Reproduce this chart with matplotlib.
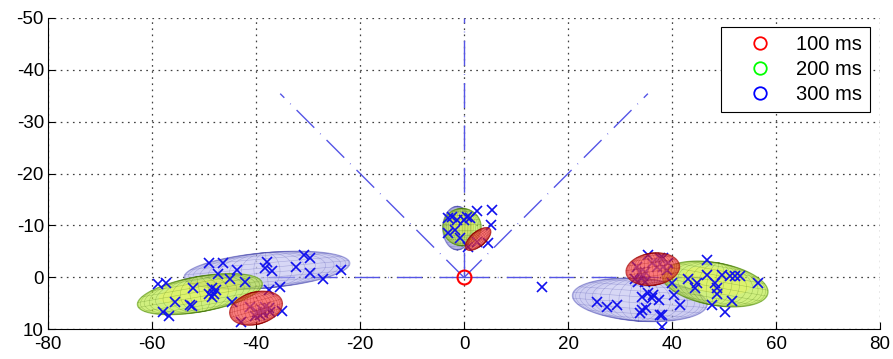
import numpy as np
import matplotlib
matplotlib.use("Agg")
import matplotlib.pyplot as plt
from matplotlib.lines import Line2D

plt.rcParams['font.family'] = ['Liberation Sans', 'DejaVu Sans']
plt.rcParams['lines.scale_dashes'] = False
plt.rcParams['axes.unicode_minus'] = False

# posiciones individuales (x, y)
pts_x = [-49.0, -46.4, -43.6, -47.4, -45.0, -58.8, -57.3, -52.1, -48.5, -47.7,
         -49.0, -48.1, -48.5, -55.6, -52.7, -52.3, -57.8, -56.7, -44.7, -42.1,
         -37.9, -38.3, -37.0, -32.3, -30.8, -29.6, -29.6, -27.1, -23.7, -35.4,
         -37.6, -41.2, -39.9, -38.9, -38.3, -37.6, -39.2, -40.2, -37.3, -38.6,
         -35.1, -42.8,
         35.4, 37.7, 36.1, 37.1, 38.3, 39.0, 33.2, 33.8, 34.8, 32.9,
         34.5, 34.8, 33.5, 25.5, 27.4, 29.4, 34.2, 35.4, 36.4, 36.1,
         37.4, 34.2, 35.0, 33.8, 37.7, 38.0, 46.7, 38.3, 39.3, 39.9,
         43.1, 44.8, 44.4, 46.7, 48.3, 49.6, 51.2, 52.1, 53.1, 56.6,
         48.6, 48.7, 40.3, 41.5, 47.6, 51.5, 50.2, 38.0,
         -2.4, -1.4, -3.0, -0.1, 0.5, 1.2, 2.4, 5.4, 5.1, 4.6,
         -3.0, 0.8, 2.4, -1.7, -0.8,
         14.9]
pts_y = [-2.7, -2.7, -1.4, -0.6, 0.2, 1.3, 1.1, 2.1, 2.1, 2.4,
         3.2, 3.2, 3.7, 4.8, 5.3, 5.5, 6.6, 7.4, 4.8, 0.8,
         -3.0, -1.8, -1.3, -2.1, -4.3, -3.8, -0.8, 0.2, -1.4, 1.8,
         2.4, 5.6, 6.6, 6.3, 5.6, 5.9, 7.2, 7.5, 6.6, 6.9,
         6.4, 8.5,
         -4.3, -3.7, -2.7, -2.1, -2.1, -1.4, -2.1, -1.1, -1.1, 0.2,
         -0.2, 0.8, 0.8, 4.7, 5.6, 5.2, 3.7, 3.0, 3.4, 4.0,
         4.3, 6.3, 5.9, 6.9, 7.2, 9.5, -3.4, -3.7, -2.7, 1.1,
         0.2, 1.1, 2.0, -0.5, 1.1, -0.5, -0.2, -0.2, -0.2, 1.1,
         2.1, 3.2, 3.4, 5.3, 5.3, 4.5, 6.6, 7.2,
         -11.7, -11.1, -11.4, -11.1, -11.7, -11.4, -12.7, -12.9, -10.0, -6.7,
         -8.5, -5.9, -6.9, -9.1, -7.6,
         1.9]

# elipses de confianza: centro x, centro y, semieje a, semieje b, ángulo (grados)
elip_100 = [(-40.0, 5.9, 5.2, 3.1, -15), (36.3, -1.6, 5.2, 3.1, -8), (2.7, -7.4, 3.0, 1.4, -40)]
elip_200 = [(-50.8, 3.2, 12.2, 3.4, -10), (48.3, 1.25, 10.3, 4.1, 10), (-0.4, -9.7, 3.7, 3.6, 0)]
elip_300 = [(-37.9, -1.4, 16.0, 3.4, -5), (33.8, 4.3, 13.0, 4.1, 4), (-1.3, -9.5, 2.8, 4.2, 0)]

tiempos = ["100 ms", "200 ms", "300 ms"]
colores_leyenda = ["#ff0000", "#00ff00", "#0000ff"]

# rayos de referencia desde el origen
rayo_angulos = [0, 45, 90, 135, 180]
rayo_largo = 50


def rotar(cx, cy, u, v, ang):
    c, s = np.cos(np.radians(ang)), np.sin(np.radians(ang))
    return cx + u * c - v * s, cy + u * s + v * c


def elipsoide(ax, e, cara, interior, borde, malla, alfa, z):
    cx, cy, a, b, ang = e
    t = np.linspace(0, 2 * np.pi, 200)
    x, y = rotar(cx, cy, a * np.cos(t), b * np.sin(t), ang)
    ax.fill(x, y, facecolor=cara, edgecolor=borde, lw=0.8, alpha=alfa, zorder=z)
    x, y = rotar(cx, cy, 0.65 * a * np.cos(t), 0.6 * b * np.sin(t) - 0.15 * b, ang)
    ax.fill(x, y, facecolor=interior, edgecolor='none', alpha=0.35, zorder=z)
    lat = np.linspace(-np.pi / 2, np.pi / 2, 60)
    for lon in np.linspace(-np.pi / 2, np.pi / 2, 21)[1:-1]:
        x, y = rotar(cx, cy, a * np.sin(lon) * np.cos(lat), b * np.sin(lat), ang)
        ax.plot(x, y, color=malla, lw=0.4, alpha=0.35, zorder=z)
    for la in np.linspace(-np.pi / 2, np.pi / 2, 12)[1:-1]:
        u = np.linspace(-a * np.cos(la), a * np.cos(la), 2)
        x, y = rotar(cx, cy, u, np.full(2, b * np.sin(la)), ang)
        ax.plot(x, y, color=malla, lw=0.4, alpha=0.35, zorder=z)


fig = plt.figure(figsize=(8.93, 3.59), dpi=100)
ax = fig.add_axes([0.0538, 0.0822, 0.9317, 0.869])

for ang in rayo_angulos:
    ax.plot([0, rayo_largo * np.cos(np.radians(ang))],
            [0, -rayo_largo * np.sin(np.radians(ang))],
            color='#5555e6', lw=1.0, dashes=(18, 6, 0.5, 6), zorder=2)

for e in elip_300:
    elipsoide(ax, e, '#b0b0ea', '#e8e8fb', '#7878cc', '#5050b0', 0.6, 3)
for e in elip_200:
    elipsoide(ax, e, '#b8e83a', '#f8f650', '#6aa822', '#4a7a10', 0.65, 3)

ax.plot(pts_x, pts_y, 'x', color='#1010ee', ms=7, mew=1.2, zorder=3.5)

for e in elip_100:
    elipsoide(ax, e, '#f42828', '#ff7070', '#b01010', '#900000', 0.6, 4)

ax.plot(0, 0, 'o', ms=10, mfc='none', mec='#ff0000', mew=1.5, zorder=4)

ax.set_xlim(-80, 80)
ax.set_ylim(10, -50)
ax.set_xticks(np.arange(-80, 81, 20))
ax.set_yticks(np.arange(-50, 11, 10))
ax.tick_params(direction='in', length=5, labelsize=13.5, pad=3)
ax.tick_params(axis='x', pad=5)
ax.grid(True, color='0.25', lw=0.9, dashes=(1.2, 3.2))
ax.set_axisbelow(True)
for lado in ['top', 'right']:
    ax.spines[lado].set_visible(False)

handles = [Line2D([], [], ls='none', marker='o', ms=9, mfc='none', mec=c, mew=1.3)
           for c in colores_leyenda]
leg = ax.legend(handles, tiempos, loc='upper right', fontsize=14.5, frameon=True,
                fancybox=False, framealpha=1, edgecolor='black', handlelength=3.0,
                handletextpad=0.3, labelspacing=0.3, borderpad=0.4,
                borderaxespad=0, bbox_to_anchor=(0.988, 0.97))
leg.get_frame().set_linewidth(0.8)

fig.savefig("out.png", dpi=100)
